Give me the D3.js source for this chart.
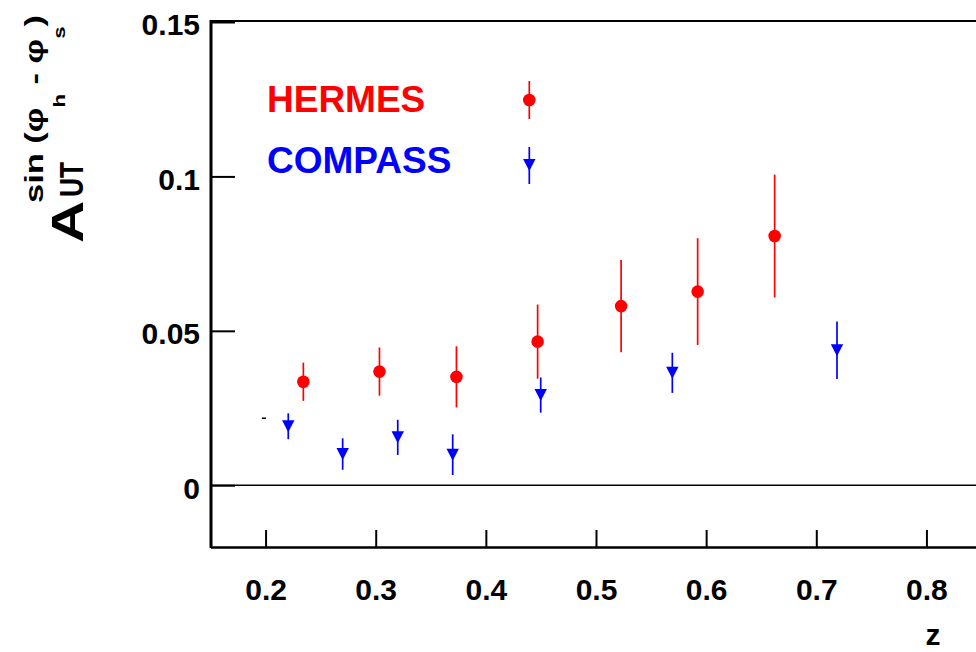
<!DOCTYPE html>
<html>
<head>
<meta charset="utf-8">
<script src="https://cdn.jsdelivr.net/npm/d3@7"></script>
<style>
  html, body { margin: 0; padding: 0; background: #fff; }
  svg { display: block; }
  text { font-family: "Liberation Sans", Arial, Helvetica, sans-serif; font-weight: bold; }
</style>
</head>
<body>
<svg id="chart" width="976" height="652"></svg>
<script>
// ---- data ----
const hermesZ   = [0.2343, 0.3034, 0.3733, 0.4470, 0.5228, 0.5923, 0.6622];
const hermesA   = [0.0335, 0.0368, 0.0351, 0.0465, 0.0580, 0.0627, 0.0807];
const hermesErr = [0.0062, 0.0078, 0.0099, 0.0120, 0.0149, 0.0173, 0.0199];

const compassZ   = [0.2206, 0.2700, 0.3200, 0.3699, 0.4498, 0.5693, 0.7188];
const compassA   = [0.0191, 0.0101, 0.0155, 0.0099, 0.0292, 0.0364, 0.0437];
const compassErr = [0.0042, 0.0051, 0.0057, 0.0066, 0.0057, 0.0065, 0.0093];

const strayZ = [0.1985];
const strayA = [0.0217];

const xTicks = [0.2, 0.3, 0.4, 0.5, 0.6, 0.7, 0.8];
const xTickLabels = ["0.2", "0.3", "0.4", "0.5", "0.6", "0.7", "0.8"];
const yTicks = [0, 0.05, 0.1, 0.15];
const yTickLabels = ["0", "0.05", "0.1", "0.15"];

const seriesNames = ["HERMES", "COMPASS"];
const seriesColors = ["#ff0000", "#0000ff"];

// ---- layout ----
const svg = d3.select("#chart");
const pLeft = 210.5, pRight = 981.5, pTop = 22, pBottom = 547;
const x = d3.scaleLinear().domain([0.15, 0.85]).range([pLeft, pRight]);
const y = d3.scaleLinear().domain([-0.02, 0.15]).range([pBottom, pTop]);

// zero line
svg.append("line")
  .attr("x1", pLeft).attr("x2", pRight)
  .attr("y1", y(0)).attr("y2", y(0))
  .attr("stroke", "#000").attr("stroke-width", 1.5);

// frame top
svg.append("line")
  .attr("x1", pLeft).attr("x2", pRight)
  .attr("y1", pTop - 1).attr("y2", pTop - 1)
  .attr("stroke", "#000").attr("stroke-width", 2);

// x axis
const xAxis = d3.axisBottom(x)
  .tickValues(xTicks)
  .tickFormat((d, i) => xTickLabels[i])
  .tickSizeInner(-17).tickSizeOuter(0).tickPadding(32);
const gx = svg.append("g").attr("transform", `translate(0,${pBottom})`).call(xAxis);
gx.select(".domain").attr("stroke-width", 2.5);
gx.selectAll(".tick line").attr("stroke-width", 2);
gx.selectAll(".tick text").attr("font-size", 30).attr("fill", "#000")
  .style("font-family", '"Liberation Sans", Arial, sans-serif').style("font-weight", "bold");

// y axis
const yAxis = d3.axisLeft(y)
  .tickValues(yTicks)
  .tickFormat((d, i) => yTickLabels[i])
  .tickSizeInner(-24).tickSizeOuter(0).tickPadding(11);
const gy = svg.append("g").attr("transform", `translate(${pLeft + 0.5},0)`).call(yAxis);
gy.select(".domain").attr("stroke-width", 3).attr("d", `M0,${pTop - 2}V${pBottom + 1}`);
gy.selectAll(".tick line").attr("stroke-width", 2);
gy.selectAll(".tick text").attr("font-size", 30).attr("dy", "0.43em").attr("fill", "#000")
  .style("font-family", '"Liberation Sans", Arial, sans-serif').style("font-weight", "bold");

// x axis title
svg.append("text").attr("x", 933).attr("y", 645)
  .attr("text-anchor", "middle").attr("font-size", 30).text("z");

// y axis title (rotated)
const gt = svg.append("g").attr("transform", "translate(83,243) rotate(-90) scale(1.3,1)");
gt.append("text").attr("x", 0).attr("y", 0).attr("font-size", 45).text("A");
gt.append("text").attr("x", 35.4).attr("y", 0).attr("font-size", 33)
  .attr("textLength", 27).attr("lengthAdjust", "spacingAndGlyphs").text("UT");
const sup = gt.append("text").attr("x", 30.8).attr("y", -40).attr("font-size", 26.5);
sup.append("tspan").text("sin (\u03c6");
sup.append("tspan").attr("font-size", 17).attr("dy", 22).text("h");
sup.append("tspan").attr("dy", -22).text(" - \u03c6");
sup.append("tspan").attr("font-size", 17).attr("dy", 22).text("s");
sup.append("tspan").attr("dy", -22).text(")");

// triangle marker (down-pointing, bbox centred)
const triPath = "M-6.2,-6L6.2,-6L0,6Z";

// stray mark
svg.selectAll(".stray").data(strayZ).enter().append("line")
  .attr("x1", (d) => x(d) - 2).attr("x2", (d) => x(d) + 2)
  .attr("y1", (d, i) => y(strayA[i])).attr("y2", (d, i) => y(strayA[i]))
  .attr("stroke", "#000").attr("stroke-width", 1.5);

// HERMES
const hermes = hermesZ.map((z, i) => ({ z, a: hermesA[i], e: hermesErr[i] }));
svg.selectAll(".herr").data(hermes).enter().append("line")
  .attr("x1", (d) => x(d.z)).attr("x2", (d) => x(d.z))
  .attr("y1", (d) => y(d.a + d.e)).attr("y2", (d) => y(d.a - d.e))
  .attr("stroke", seriesColors[0]).attr("stroke-width", 1.7);
svg.selectAll(".hpt").data(hermes).enter().append("circle")
  .attr("cx", (d) => x(d.z)).attr("cy", (d) => y(d.a)).attr("r", 6.3)
  .attr("fill", seriesColors[0]);

// COMPASS
const compass = compassZ.map((z, i) => ({ z, a: compassA[i], e: compassErr[i] }));
svg.selectAll(".cerr").data(compass).enter().append("line")
  .attr("x1", (d) => x(d.z)).attr("x2", (d) => x(d.z))
  .attr("y1", (d) => y(d.a + d.e)).attr("y2", (d) => y(d.a - d.e))
  .attr("stroke", seriesColors[1]).attr("stroke-width", 1.7);
svg.selectAll(".cpt").data(compass).enter().append("path")
  .attr("d", triPath)
  .attr("transform", (d) => `translate(${x(d.z)},${y(d.a)})`)
  .attr("fill", seriesColors[1]);

// legend
const legY = [112, 173];
seriesNames.forEach((name, i) => {
  svg.append("text").attr("x", 267).attr("y", legY[i])
    .attr("font-size", 37).attr("fill", seriesColors[i]).text(name);
});
svg.append("line").attr("x1", 529.3).attr("x2", 529.3).attr("y1", 81).attr("y2", 119)
  .attr("stroke", seriesColors[0]).attr("stroke-width", 1.7);
svg.append("circle").attr("cx", 529.3).attr("cy", 100).attr("r", 6.3).attr("fill", seriesColors[0]);
svg.append("line").attr("x1", 529.3).attr("x2", 529.3).attr("y1", 147).attr("y2", 184)
  .attr("stroke", seriesColors[1]).attr("stroke-width", 1.7);
svg.append("path").attr("d", triPath).attr("transform", "translate(529.3,165)").attr("fill", seriesColors[1]);
</script>
</body>
</html>
